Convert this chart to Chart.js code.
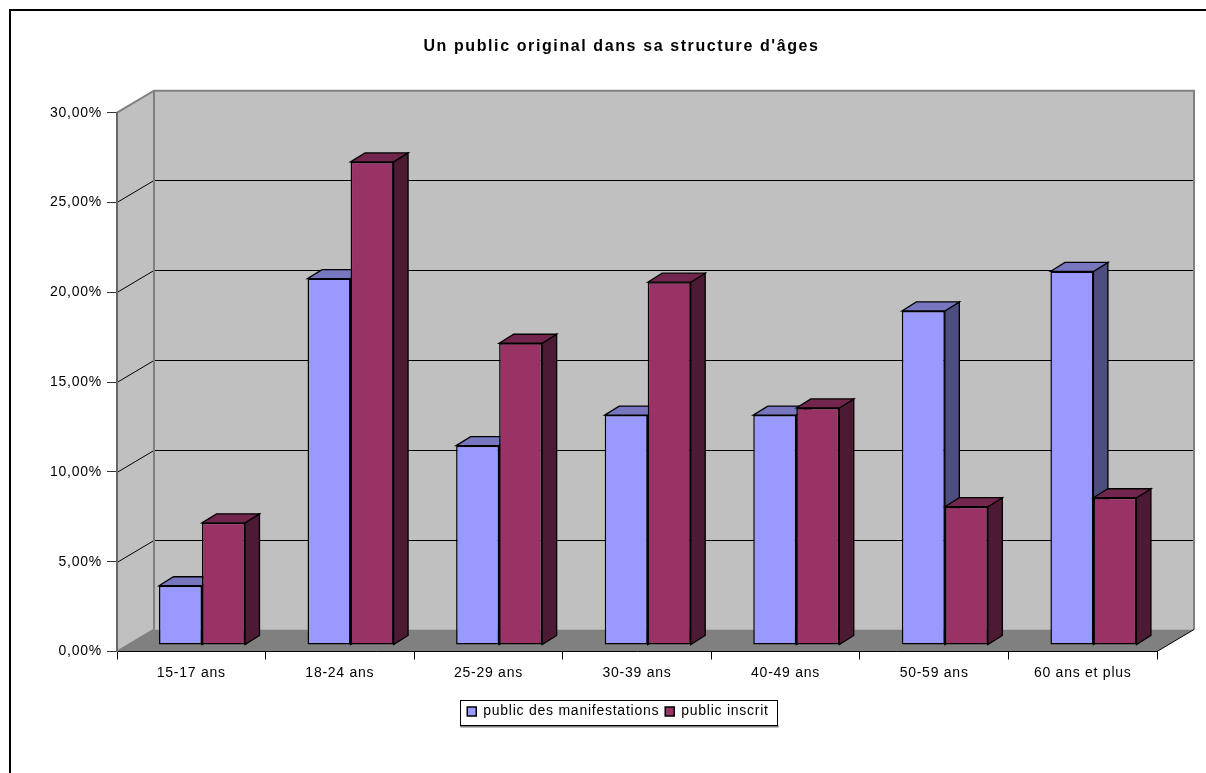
<!DOCTYPE html>
<html lang="fr">
<head>
<meta charset="utf-8">
<title>Un public original dans sa structure d'âges</title>
<script src="https://cdn.jsdelivr.net/npm/chart.js@4"></script>
<style>
    html, body { margin: 0; padding: 0; background: #fff; overflow: hidden; }
    canvas { display: block; }
</style>
</head>
<body>
<canvas id="graphique" width="1206" height="773"></canvas>
<script>
const titre = "Un public original dans sa structure d'âges";
const categories = ['15-17 ans', '18-24 ans', '25-29 ans', '30-39 ans', '40-49 ans', '50-59 ans', '60 ans et plus'];
const publicManifestations = [3.3, 20.4, 11.1, 12.8, 12.8, 18.6, 20.8];
const publicInscrit = [6.8, 26.9, 16.8, 20.2, 13.2, 7.7, 8.2];
const graduations = [0, 5, 10, 15, 20, 25, 30];

// decalage de la perspective : mur du fond et barres
const murDx = 37, murDy = -22;
const barreDx = 10.7, barreDy = -6.5;
const profDx = 14.5, profDy = -9;

const policeBase = 'Liberation Sans, Arial, sans-serif';
const espaceTexte = '0.75px', espaceTitre = '1.6px';

function face(ctx, pts, fond, trait) {
    ctx.beginPath();
    pts.forEach((p, i) => i ? ctx.lineTo(p[0], p[1]) : ctx.moveTo(p[0], p[1]));
    ctx.closePath();
    ctx.fillStyle = fond;
    ctx.fill();
    if (trait) {
        ctx.strokeStyle = trait;
        ctx.lineWidth = 1.3;
        ctx.stroke();
    }
}

const decor3d = {
    id: 'decor3d',
    beforeUpdate(chart) {
        chart.ctx.letterSpacing = espaceTexte;
    },
    beforeDraw(chart) {
        const { ctx, scales: { x, y } } = chart;
        const g = x.left, d = x.right, h = y.getPixelForValue(30), b = y.getPixelForValue(0);
        ctx.letterSpacing = espaceTexte;
        ctx.save();
        // cadre exterieur
        ctx.fillStyle = '#000';
        ctx.fillRect(9, 9, 1197, 2);
        ctx.fillRect(9, 9, 2, 764);
        // murs et sol
        face(ctx, [[g, b], [g, h], [g + murDx, h + murDy], [g + murDx, b + murDy]], '#c0c0c0');
        face(ctx, [[g + murDx, b + murDy], [g + murDx, h + murDy], [d + murDx, h + murDy], [d + murDx, b + murDy]], '#c0c0c0');
        face(ctx, [[g, b], [g + murDx, b + murDy], [d + murDx, b + murDy], [d, b]], '#808080');
        // quadrillage
        ctx.strokeStyle = '#000';
        ctx.lineWidth = 1;
        graduations.slice(1, -1).forEach(v => {
            const py = Math.round(y.getPixelForValue(v)) + 0.5;
            ctx.beginPath();
            ctx.moveTo(g, py);
            ctx.lineTo(g + murDx, py + murDy);
            ctx.lineTo(d + murDx, py + murDy);
            ctx.stroke();
        });
        // aretes des murs
        ctx.strokeStyle = '#808080';
        ctx.lineWidth = 2;
        ctx.beginPath();
        ctx.moveTo(g, h);
        ctx.lineTo(g + murDx, h + murDy);
        ctx.lineTo(d + murDx, h + murDy);
        ctx.lineTo(d + murDx, b + murDy);
        ctx.moveTo(g + murDx, h + murDy);
        ctx.lineTo(g + murDx, b + murDy);
        ctx.moveTo(g, b);
        ctx.lineTo(g + murDx, b + murDy);
        ctx.stroke();
        ctx.strokeStyle = '#000';
        ctx.lineWidth = 1;
        ctx.beginPath();
        ctx.moveTo(d, b);
        ctx.lineTo(d + murDx, b + murDy);
        ctx.stroke();
        ctx.restore();
    },
    // chart.js dessine le premier jeu au-dessus : ici il faut l'inverse
    beforeDatasetsDraw(chart) {
        const { ctx } = chart;
        ctx.save();
        ctx.translate(barreDx, barreDy);
        chart.data.datasets.forEach((ds, i) => {
            const meta = chart.getDatasetMeta(i);
            meta.data.forEach(barre => {
                const g = barre.x - barre.width / 2, d = barre.x + barre.width / 2;
                face(ctx, [[d, barre.y], [d + profDx, barre.y + profDy], [d + profDx, barre.base + profDy], [d, barre.base]], ds.couleurCote, '#000');
                face(ctx, [[g, barre.y], [g + profDx, barre.y + profDy], [d + profDx, barre.y + profDy], [d, barre.y]], ds.couleurDessus, '#000');
            });
            meta.controller.draw();
        });
        ctx.restore();
        return false;
    },
    afterLayout(chart) {
        // titre et legende ne sont pas centres sur le canvas
        const leg = chart.legend, tit = chart.titleBlock;
        leg.left += 34.5;
        leg.right += 34.5;
        leg.top += 7;
        leg.bottom += 7;
        tit.left += 38;
        tit.right += 38;
        if (!tit.dessinOrigine) {
            tit.dessinOrigine = tit.draw;
            tit.draw = function () {
                chart.ctx.letterSpacing = espaceTitre;
                tit.dessinOrigine();
                chart.ctx.letterSpacing = espaceTexte;
            };
        }
    },
    afterDraw(chart) {
        const { ctx, legend } = chart;
        const boites = legend.legendHitBoxes;
        const dernier = boites[boites.length - 1];
        const g = boites[0].left - 7, d = dernier.left + dernier.width + 9;
        const h = legend.top + 1, b = h + 25;
        ctx.save();
        ctx.fillStyle = '#808080';
        ctx.fillRect(g, b + 1, d - g + 1, 2);
        ctx.strokeStyle = '#000';
        ctx.lineWidth = 1;
        ctx.strokeRect(Math.round(g) + 0.5, Math.round(h) + 0.5, Math.round(d - g), 25);
        ctx.restore();
    }
};

new Chart(document.getElementById('graphique').getContext('2d'), {
    type: 'bar',
    data: {
        labels: categories,
        datasets: [
            {
                label: 'public des manifestations',
                data: publicManifestations,
                backgroundColor: '#9999ff',
                couleurCote: '#4d4d80',
                couleurDessus: '#7777c0',
                borderColor: '#000',
                borderWidth: 1.5,
                borderSkipped: false
            },
            {
                label: 'public inscrit',
                data: publicInscrit,
                backgroundColor: '#993366',
                couleurCote: '#4d1a33',
                couleurDessus: '#73264d',
                borderColor: '#000',
                borderWidth: 1.5,
                borderSkipped: false
            }
        ]
    },
    options: {
        responsive: false,
        animation: false,
        devicePixelRatio: 1,
        layout: { padding: { left: 10, right: 49, top: 0, bottom: 51.5 } },
        categoryPercentage: 0.579,
        barPercentage: 1,
        plugins: {
            title: {
                display: true,
                text: titre,
                color: '#000',
                font: { family: policeBase, size: 16, weight: 'bold' },
                padding: { top: 37, bottom: 56.5 }
            },
            legend: {
                position: 'bottom',
                labels: {
                    color: '#000',
                    font: { family: policeBase, size: 14 },
                    boxWidth: 9,
                    boxHeight: 9,
                    padding: 6
                }
            },
            tooltip: { enabled: false }
        },
        scales: {
            x: {
                afterFit: s => { s.height = 40; },
                grid: { offset: true, drawOnChartArea: false, drawTicks: true, tickLength: 8, color: '#000' },
                border: { color: '#000', width: 1 },
                ticks: { color: '#000', font: { family: policeBase, size: 14 }, padding: 5 }
            },
            y: {
                min: 0,
                max: 30,
                afterFit: s => { s.width = 107; },
                grid: { drawOnChartArea: false, drawTicks: true, tickLength: 10, color: '#333' },
                border: { color: '#666', width: 2 },
                ticks: {
                    stepSize: 5,
                    color: '#000',
                    font: { family: policeBase, size: 14 },
                    padding: 5,
                    callback: v => v.toFixed(2).replace('.', ',') + '%'
                }
            }
        }
    },
    plugins: [decor3d]
});
</script>
</body>
</html>
